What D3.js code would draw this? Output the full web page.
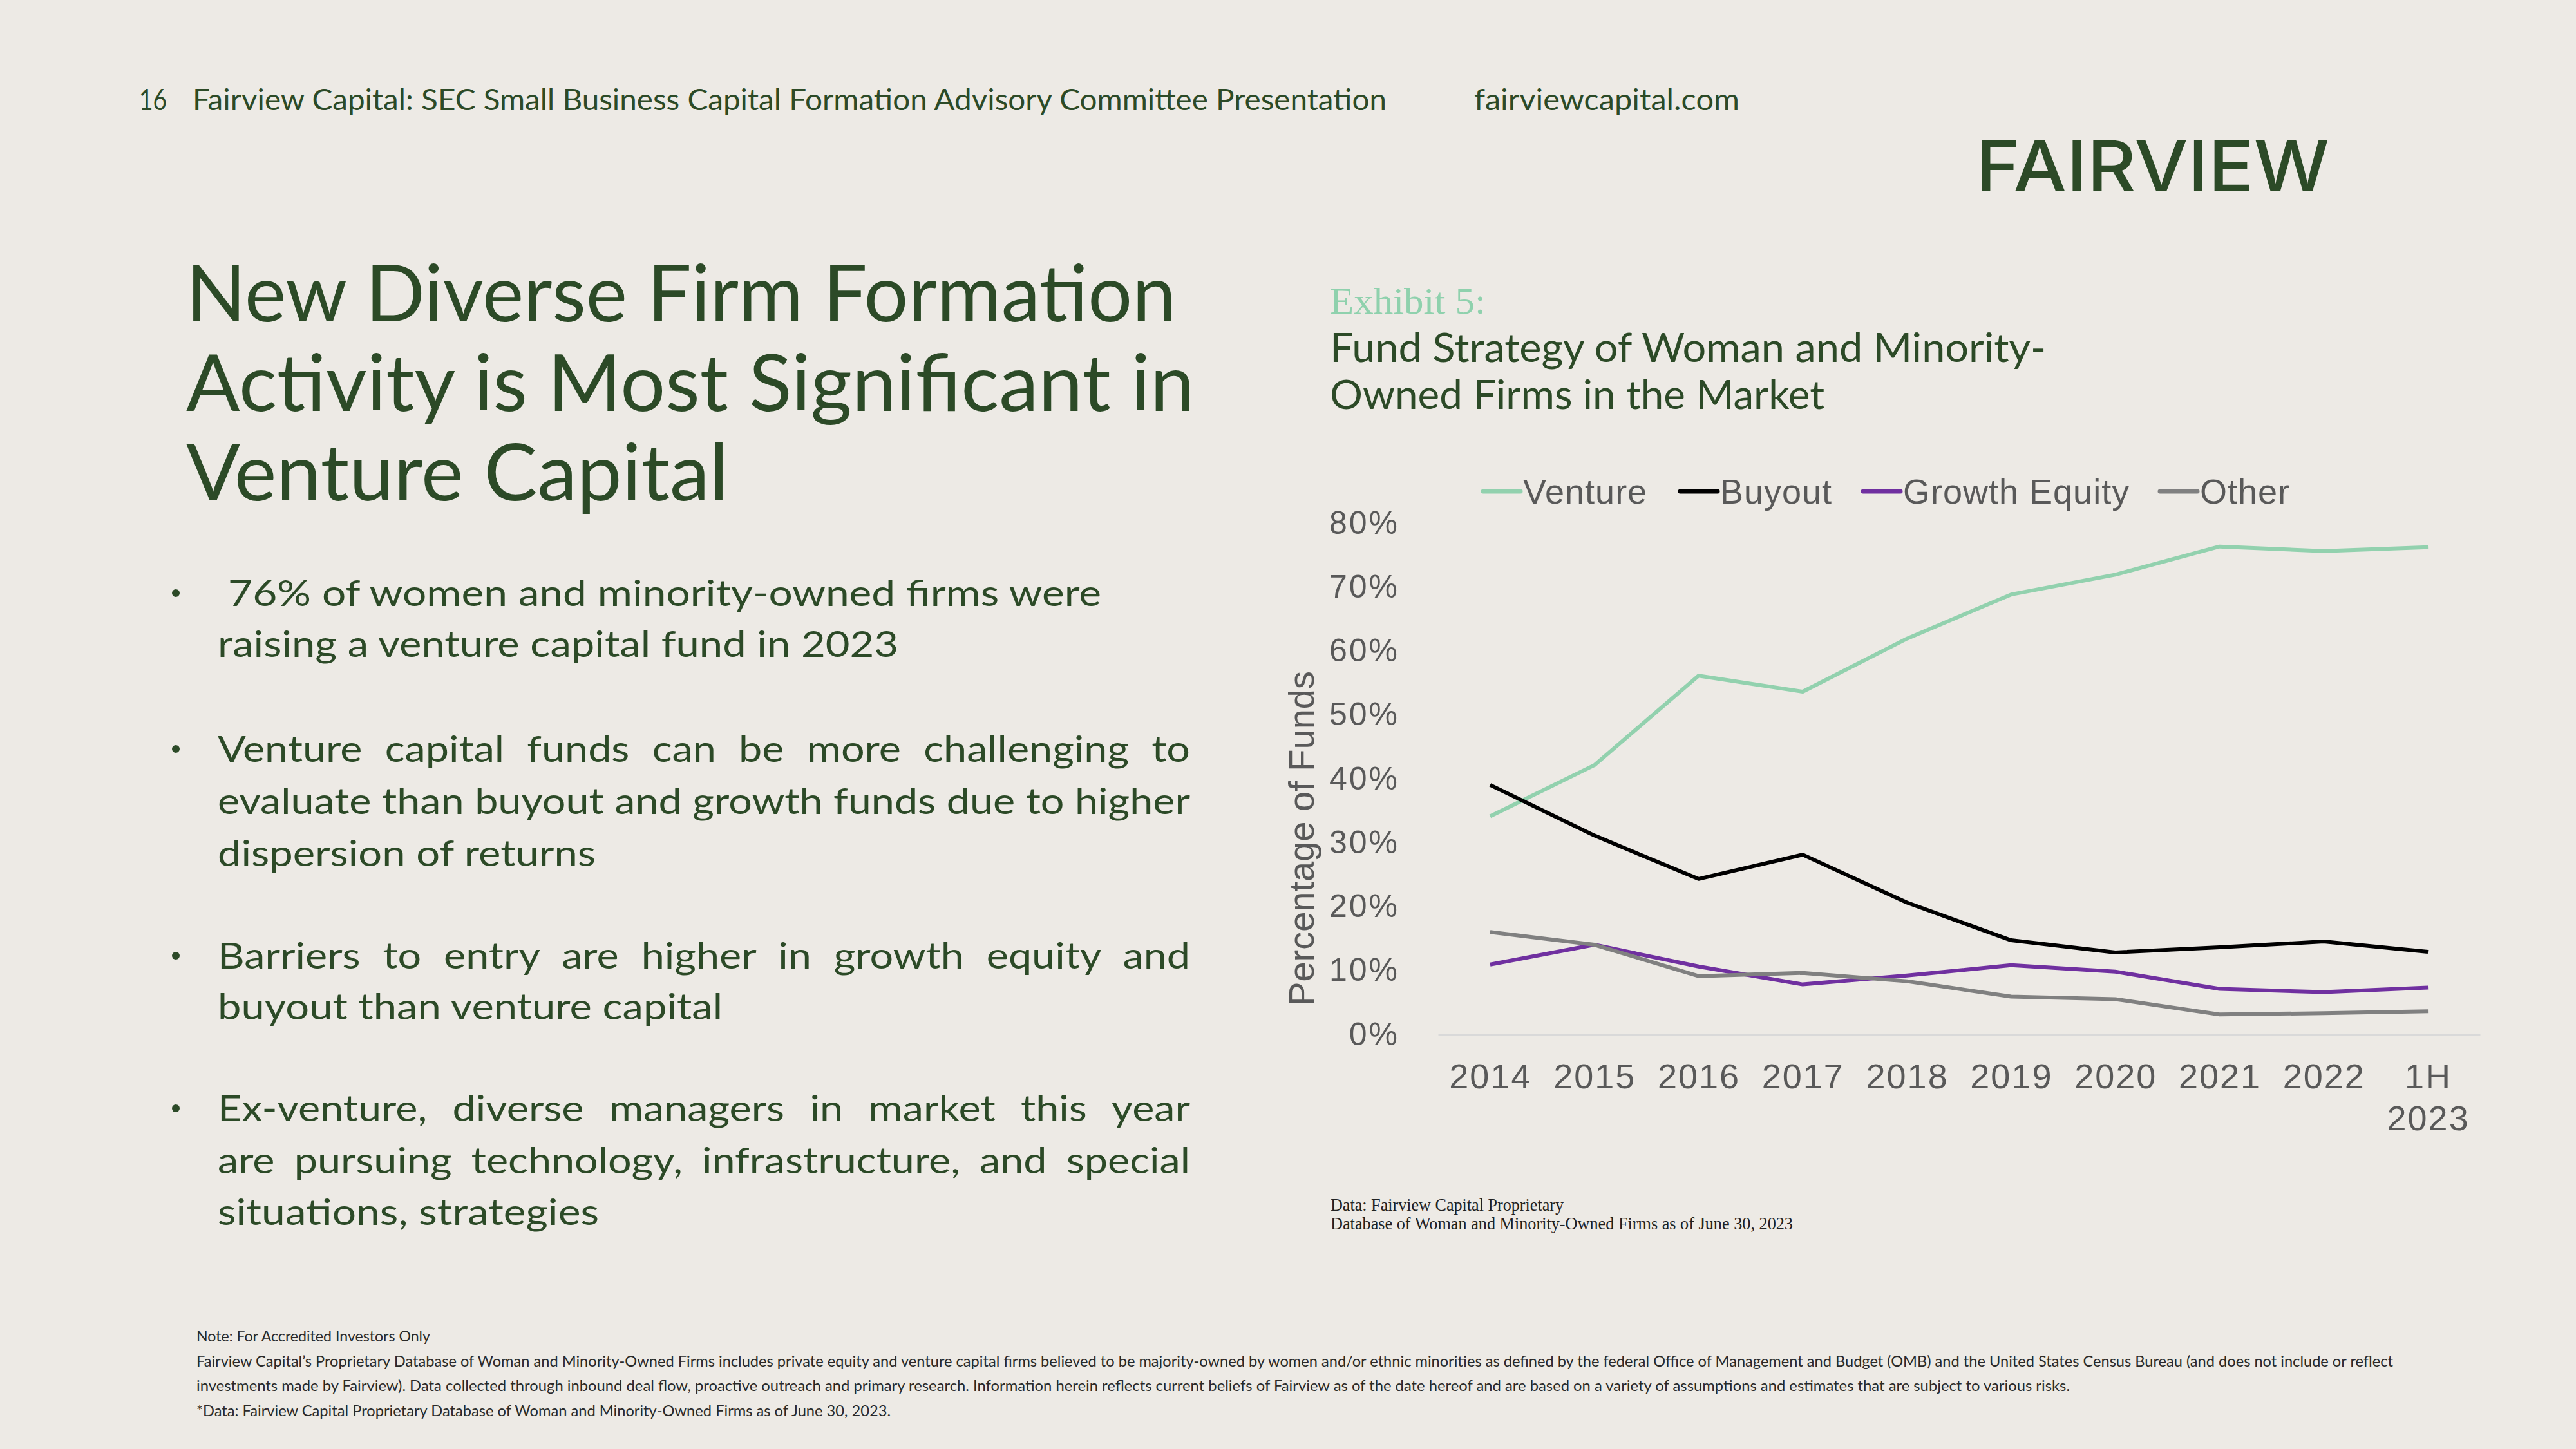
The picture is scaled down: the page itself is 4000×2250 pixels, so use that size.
<!DOCTYPE html>
<html>
<head>
<meta charset="utf-8">
<script src="https://cdn.jsdelivr.net/npm/d3@7"></script>
<style>
  html, body { margin: 0; padding: 0; background: #EDEAE5; }
  svg { display: block; }
</style>
</head>
<body>
<div id="chart"></div>
<script>
// ---------------- DATA ----------------
const categories = ["2014", "2015", "2016", "2017", "2018", "2019", "2020", "2021", "2022", "1H 2023"];
const venture      = [34.1, 42.1, 56.1, 53.6, 61.9, 68.8, 71.9, 76.3, 75.6, 76.2];
const buyout       = [39.0, 31.1, 24.3, 28.1, 20.6, 14.7, 12.8, 13.6, 14.5, 12.9];
const growthEquity = [10.9, 14.0, 10.6, 7.8, 9.2, 10.8, 9.8, 7.1, 6.6, 7.3];
const other        = [16.0, 14.0, 9.1, 9.6, 8.3, 5.9, 5.5, 3.1, 3.3, 3.6];
const seriesNames  = ["Venture", "Buyout", "Growth Equity", "Other"];
const yTickValues  = [0, 10, 20, 30, 40, 50, 60, 70, 80];

const headerText = "Fairview Capital: SEC Small Business Capital Formation Advisory Committee Presentation";
const pageNumber = "16";
const urlText = "fairviewcapital.com";
const logoText = "FAIRVIEW";
const titleLines = ["New Diverse Firm Formation", "Activity is Most Significant in", "Venture Capital"];
const bulletLines = [
  ["76% of women and minority-owned firms were", "raising a venture capital fund in 2023"],
  ["Venture capital funds can be more challenging to", "evaluate than buyout and growth funds due to higher", "dispersion of returns"],
  ["Barriers to entry are higher in growth equity and", "buyout than venture capital"],
  ["Ex-venture, diverse managers in market this year", "are pursuing technology, infrastructure, and special", "situations, strategies"]
];
const exhibitLabel = "Exhibit 5:";
const chartTitleLines = ["Fund Strategy of Woman and Minority-", "Owned Firms in the Market"];
const yAxisTitle = "Percentage of Funds";
const sourceLines = ["Data: Fairview Capital Proprietary", "Database of Woman and Minority-Owned Firms as of June 30, 2023"];
const footnoteLines = [
  "Note: For Accredited Investors Only",
  "Fairview Capital\u2019s Proprietary Database of Woman and Minority-Owned Firms includes private equity and venture capital firms believed to be majority-owned by women and/or ethnic minorities as defined by the federal Office of Management and Budget (OMB) and the United States Census Bureau (and does not include or reflect",
  "investments made by Fairview). Data collected through inbound deal flow, proactive outreach and primary research. Information herein reflects current beliefs of Fairview as of the date hereof and are based on a variety of assumptions and estimates that are subject to various risks.",
  "*Data: Fairview Capital Proprietary Database of Woman and Minority-Owned Firms as of June 30, 2023."
];

// ---------------- STYLE ----------------
const W = 4000, H = 2250;
const GREEN = "#2C4A27";
const MINT = "#8FD1AD";
const GREY = "#595959";
const colors = { "Venture": "#92D1AE", "Buyout": "#000000", "Growth Equity": "#7030A0", "Other": "#808080" };
const SANS = "Lato, 'Noto Sans', sans-serif";
const ARIAL = "'Liberation Sans', Arial, sans-serif";
const SERIF = "'Liberation Serif', 'DejaVu Serif', serif";

const svg = d3.select("#chart").append("svg")
  .attr("width", W).attr("height", H)
  .attr("viewBox", `0 0 ${W} ${H}`);

svg.append("rect").attr("width", W).attr("height", H).attr("fill", "#EDEAE5");

function txt(g, x, y, s, o) {
  const t = g.append("text").attr("x", x).attr("y", y).text(s)
    .attr("font-family", o.family || SANS)
    .attr("font-size", o.size)
    .attr("fill", o.fill || GREEN)
    .attr("font-weight", o.weight || 400);
  if (o.len) t.attr("textLength", o.len).attr("lengthAdjust", o.adjust || "spacingAndGlyphs");
  if (o.anchor) t.attr("text-anchor", o.anchor);
  return t;
}

// ---------------- HEADER ----------------
txt(svg, 216, 171, pageNumber, { size: 46, len: 43 });
txt(svg, 299, 171, headerText, { size: 46, len: 1854 });
txt(svg, 2289, 171, urlText, { size: 46, len: 412 });
txt(svg, 3068, 297, logoText, { size: 108, weight: 500, len: 549, family: "Inter, Lato, sans-serif" });

// ---------------- TITLE ----------------
const titleBase = [499, 638, 777];
const titleLen = [1537, 1566, 842];
titleLines.forEach((l, i) => txt(svg, 289, titleBase[i], l, { size: 122, len: titleLen[i] }));

// ---------------- BULLETS ----------------
const bulletBase = [[941, 1020], [1183, 1264, 1345], [1504, 1583], [1741, 1822, 1902]];
const bulletLen = [[1356, 1057], [1510, 1510, 587], [1510, 784], [1510, 1510, 592]];
const BSIZE = 57;
// horizontal glyph scale: the tightest justified line fits the column with normal spaces
const probe = txt(svg, 0, -100, bulletLines[1][1], { size: BSIZE });
const hScale = bulletLen[1][1] / probe.node().getComputedTextLength();
probe.remove();

bulletLines.forEach((lines, bi) => {
  svg.append("circle").attr("cx", 273).attr("cy", bulletBase[bi][0] - 20).attr("r", 6).attr("fill", GREEN);
  lines.forEach((l, li) => {
    const x = (bi === 0 && li === 0) ? 354 : 338;
    const justified = li < lines.length - 1 && bi > 0;
    const t = txt(svg, x, bulletBase[bi][li], l, { size: BSIZE });
    const target = bulletLen[bi][li];
    if (justified) {
      const L = t.node().getComputedTextLength();
      const n = (l.match(/ /g) || []).length;
      const ws = Math.max(0, (target / hScale - L) / n);
      t.attr("word-spacing", ws);
    }
    t.attr("textLength", target).attr("lengthAdjust", "spacingAndGlyphs");
  });
});

// ---------------- CHART HEADINGS ----------------
txt(svg, 2065, 487, exhibitLabel, { size: 58, fill: MINT, family: SERIF, len: 242 });
txt(svg, 2065, 562, chartTitleLines[0], { size: 62, len: 1112 });
txt(svg, 2065, 635, chartTitleLines[1], { size: 62, len: 768 });

// ---------------- CHART ----------------
const x = d3.scalePoint().domain(categories).range([2233, 3851]).padding(0.5);
const y = d3.scaleLinear().domain([0, 80]).range([1606, 812]);

const seriesData = [venture, buyout, growthEquity, other];

// y axis
const yAxis = svg.append("g").attr("transform", "translate(2233,0)")
  .call(d3.axisLeft(y).tickValues(yTickValues).tickFormat(d => d + "%").tickSize(0).tickPadding(60));
yAxis.select(".domain").remove();
yAxis.selectAll("text").attr("font-family", ARIAL).attr("font-size", 50)
  .attr("fill", GREY).attr("letter-spacing", 3);

// x axis
const xAxis = svg.append("g").attr("transform", "translate(0,1606)")
  .call(d3.axisBottom(x).tickSize(0).tickPadding(46));
xAxis.select(".domain").attr("stroke", "#D9D9D9").attr("stroke-width", 3);
xAxis.selectAll("text").attr("font-family", ARIAL).attr("font-size", 54)
  .attr("fill", GREY).attr("letter-spacing", 2)
  .each(function (d) {
    const parts = d.split(" ");
    if (parts.length > 1) {
      const t = d3.select(this).text(null);
      parts.forEach((p, i) => {
        t.append("tspan").attr("x", 0).attr("dy", i === 0 ? "0.71em" : "1.19em").text(p);
      });
      t.attr("dy", null);
    }
  });

// y axis title
svg.append("text")
  .attr("transform", "translate(2040,1302) rotate(-90)")
  .attr("text-anchor", "middle")
  .attr("font-family", ARIAL).attr("font-size", 56).attr("fill", GREY)
  .text(yAxisTitle);

// lines
const line = d3.line().x((d, i) => x(categories[i])).y(d => y(d));
seriesNames.forEach((name, si) => {
  svg.append("path")
    .datum(seriesData[si])
    .attr("d", line)
    .attr("fill", "none")
    .attr("stroke", colors[name])
    .attr("stroke-width", 6)
    .attr("stroke-linejoin", "round")
    .attr("stroke-linecap", "butt");
});

// legend
const legendLineX = [2303, 2609, 2893, 3354];
const legend = svg.append("g");
seriesNames.forEach((name, i) => {
  legend.append("line")
    .attr("x1", legendLineX[i]).attr("x2", legendLineX[i] + 58)
    .attr("y1", 763).attr("y2", 763)
    .attr("stroke", colors[name]).attr("stroke-width", 7).attr("stroke-linecap", "round");
  legend.append("text")
    .attr("x", legendLineX[i] + 62).attr("y", 782)
    .attr("font-family", ARIAL).attr("font-size", 54).attr("fill", GREY)
    .attr("letter-spacing", 1)
    .text(name);
});

// ---------------- SOURCE ----------------
txt(svg, 2066, 1880, sourceLines[0], { size: 27, fill: "#222", family: SERIF, len: 362 });
txt(svg, 2066, 1909, sourceLines[1], { size: 27, fill: "#222", family: SERIF, len: 718 });

// ---------------- FOOTNOTES ----------------
const fnBase = [2083, 2122, 2160, 2199];
const fnLen = [363, 3411, 2909, 1078];
footnoteLines.forEach((l, i) => txt(svg, 305, fnBase[i], l, { size: 23, fill: "#2a2a2a", len: fnLen[i] }));
</script>
</body>
</html>
